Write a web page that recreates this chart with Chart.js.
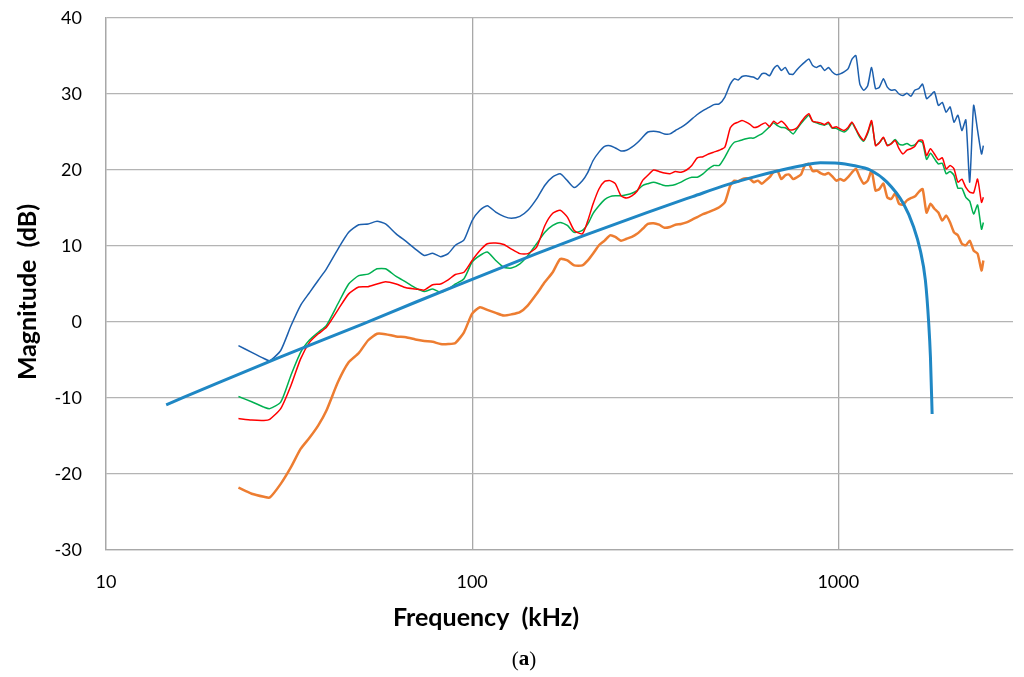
<!DOCTYPE html>
<html lang="en">
<head>
<meta charset="UTF-8">
<title>Magnitude vs frequency</title>
<script src="https://cdn.jsdelivr.net/npm/chart.js"></script>
<style>
  html, body { margin: 0; padding: 0; background: #fff; }
  #wrap { width: 1024px; height: 677px; }
</style>
</head>
<body>
<div id="wrap"><canvas id="myChart"></canvas></div>
<script>
  // measured curves share one frequency list (kHz)
  var freq = [23, 25, 27, 28, 30, 32, 34, 36, 38, 40,
    43, 46, 49, 52, 55, 58, 62, 66, 70, 74,
    78, 82, 86, 90, 95, 100, 105, 110, 116, 122,
    128, 135, 142, 150, 158, 166, 174, 182, 190, 200,
    207, 214, 222, 230, 238, 246, 255, 264, 273, 282,
    292, 302, 313, 324, 335, 347, 359, 372, 385, 398,
    412, 427, 442, 457, 473, 490, 507, 520, 533, 546,
    560, 574, 588, 603, 618, 633, 649, 665, 682, 699,
    716, 734, 753, 771, 791, 810, 831, 851, 873, 894,
    917, 940, 963, 987, 1012, 1037, 1063, 1090, 1117, 1145,
    1173, 1203, 1233, 1264, 1295, 1328, 1361, 1395, 1430, 1465,
    1502, 1540, 1578, 1617, 1658, 1699, 1742, 1785, 1830, 1876,
    1923, 1971, 2020, 2070, 2122, 2175, 2230, 2285, 2342, 2401,
    2461, 2490];

  var darkBlue = [-3.1, -4.0, -4.8, -5.1, -3.75, -0.5, 2.2, 3.9, 5.5, 7.0,
    9.6, 11.8, 12.8, 12.9, 13.25, 12.9, 11.6, 10.6, 9.6, 8.75,
    9.05, 8.6, 9.0, 10.1, 10.8, 13.35, 14.7, 15.3, 14.45, 13.9,
    13.65, 13.9, 14.7, 16.2, 18.0, 19.1, 19.5, 18.6, 17.7, 18.6,
    19.7, 21.25, 22.35, 23.1, 23.2, 22.9, 22.5, 22.6, 23.0, 23.55,
    24.3, 25.0, 25.1, 25.0, 24.75, 24.75, 25.2, 25.6, 26.1, 26.7,
    27.3, 27.8, 28.2, 28.6, 28.7, 29.6, 31.3, 32.0, 31.85, 32.3,
    32.4, 32.3, 32.2, 31.95, 32.65, 32.7, 32.4, 33.3, 33.75, 33.1,
    33.5, 32.65, 32.6, 33.2, 33.75, 34.2, 34.6, 33.75, 33.5, 33.75,
    33.1, 33.5, 32.9, 32.55, 32.65, 32.9, 33.3, 34.6, 35.05, 31.3,
    30.5, 31.1, 33.5, 30.7, 30.9, 32.0, 30.9, 30.5, 30.55, 30.0,
    29.8, 30.1, 29.7, 30.5, 30.7, 31.3, 29.4, 29.8, 30.3, 28.5,
    28.9, 27.6, 28.3, 26.3, 27.2, 25.2, 26.6, 18.4, 28.5, 25.2,
    22.1, 23.2];

  var red = [-12.7, -12.9, -12.95, -12.8, -11.4, -8.35, -4.85, -2.65, -1.55, -0.7,
    1.6, 3.7, 4.6, 4.65, 5.0, 5.3, 5.0, 4.5, 4.35, 4.2,
    4.9, 5.0, 5.55, 6.25, 6.55, 8.1, 9.4, 10.3, 10.4, 10.2,
    9.6, 9.0, 9.0, 9.85, 12.7, 14.3, 14.7, 13.8, 12.05, 11.6,
    13.35, 15.55, 17.5, 18.5, 18.6, 18.2, 16.6, 16.3, 16.6, 17.2,
    18.6, 19.3, 20.0, 19.8, 19.6, 19.5, 19.8, 19.7, 20.0, 20.6,
    21.6, 21.75, 22.1, 22.35, 22.6, 23.0, 25.55, 26.1, 26.3, 26.5,
    26.3, 26.0, 25.6, 25.7, 26.0, 26.2, 25.7, 26.4, 26.1, 26.4,
    26.0, 25.3, 25.3, 25.55, 26.3, 26.95, 27.4, 26.4, 26.3, 26.2,
    26.0, 26.3, 25.55, 25.7, 25.4, 25.2, 25.6, 26.3, 25.4, 24.5,
    23.9, 25.0, 26.5, 23.2, 23.6, 24.3, 23.2, 23.45, 23.9, 22.8,
    22.1, 22.6, 22.8, 23.1, 23.9, 23.9, 21.9, 22.8, 22.1, 21.35,
    21.6, 20.15, 20.6, 20.15, 18.4, 18.8, 17.7, 17.1, 17.0, 18.8,
    15.75, 16.4];

  var green = [-9.8, -10.5, -11.2, -11.4, -10.55, -7.0, -4.0, -2.35, -1.35, -0.45,
    2.4, 5.0, 6.1, 6.3, 7.0, 7.0, 6.0, 5.25, 4.5, 4.0,
    4.35, 3.9, 4.35, 5.0, 5.7, 7.9, 8.75, 9.2, 8.1, 7.2,
    7.1, 7.65, 8.75, 10.3, 11.8, 12.7, 13.1, 12.7, 11.8, 12.05,
    12.9, 14.3, 15.3, 16.1, 16.5, 16.6, 16.6, 16.75, 16.95, 17.3,
    17.95, 18.2, 18.4, 18.2, 17.95, 17.95, 18.1, 18.4, 18.8, 19.05,
    19.05, 19.5, 20.15, 20.6, 20.6, 21.7, 23.0, 23.65, 23.8, 23.95,
    24.1, 24.2, 24.2, 24.5, 24.75, 25.2, 25.7, 26.2, 25.85, 25.6,
    25.55, 25.2, 24.75, 25.4, 26.1, 26.7, 27.2, 26.4, 26.2, 26.0,
    25.9, 26.1, 25.5, 25.5, 25.2, 25.0, 25.4, 26.2, 25.3, 24.3,
    23.8, 24.8, 26.3, 23.3, 23.6, 24.2, 23.3, 23.5, 24.0, 23.4,
    23.3, 23.5, 23.2, 23.3, 23.8, 23.6, 21.4, 22.2, 21.5, 20.8,
    20.9, 19.5, 19.8, 19.3, 17.6, 17.6, 16.4, 15.9, 14.2, 15.4,
    12.2, 13.1];

  var orange = [-21.8, -22.6, -23.0, -23.1, -21.3, -19.1, -16.7, -15.2, -13.6, -11.65,
    -7.9, -5.3, -4.1, -2.4, -1.55, -1.6, -1.9, -2.0, -2.3, -2.5,
    -2.6, -2.9, -2.9, -2.75, -1.35, 1.1, 1.95, 1.6, 1.2, 0.85,
    1.0, 1.3, 2.2, 3.7, 5.25, 6.55, 8.3, 8.1, 7.45, 7.45,
    8.1, 9.0, 10.1, 10.7, 11.4, 11.2, 10.7, 10.95, 11.2, 11.6,
    12.25, 12.9, 13.0, 12.8, 12.4, 12.5, 12.8, 12.9, 13.1, 13.45,
    13.8, 14.2, 14.45, 14.75, 15.1, 15.75, 17.95, 18.6, 18.5, 18.8,
    18.9, 18.8, 18.4, 18.6, 18.2, 18.6, 19.05, 19.7, 19.9, 18.8,
    19.3, 19.4, 18.8, 19.05, 19.4, 20.6, 20.8, 19.85, 19.9, 19.6,
    19.4, 19.6, 19.15, 18.6, 18.8, 18.6, 19.05, 19.7, 20.15, 19.05,
    18.2, 18.6, 19.9, 17.3, 17.5, 18.2, 16.4, 16.2, 16.9, 15.55,
    15.45, 16.0, 16.3, 16.5, 17.1, 17.5, 14.4, 15.55, 14.9, 14.4,
    13.35, 14.0, 13.1, 11.8, 11.4, 10.3, 10.1, 10.7, 9.4, 9.0,
    6.8, 8.1];

  // model curve
  var modelFreq = [14.6, 20, 30, 50, 70, 100, 150, 200, 300, 400,
    500, 600, 700, 800, 893, 1000, 1099, 1222, 1358, 1507,
    1606, 1675, 1729, 1766, 1785, 1804];
  var model = [-10.9, -8.1, -4.6, -0.3, 2.6, 5.6, 9.0, 11.3, 14.4, 16.5,
    18.1, 19.2, 20.0, 20.6, 20.95, 20.9, 20.6, 20.0, 18.4, 15.55,
    12.5, 9.4, 5.5, -0.2, -4.6, -12.1];

  var xTicks = [10, 100, 1000];

  function pts(xs, ys) {
    return xs.map(function (f, i) { return { x: f, y: ys[i] }; });
  }

  function serie(data, color, width) {
    return {
      data: data,
      borderColor: color,
      borderWidth: width,
      pointRadius: 0,
      tension: 0.2,
      fill: false
    };
  }

  var modelSet = serie(pts(modelFreq, model), "#1F87C4", 3);
  modelSet.cubicInterpolationMode = "monotone";

  // axis titles and the "(a)" caption, placed like the original figure
  var textPlugin = {
    id: "texts",
    afterDraw: function (chart) {
      var ctx = chart.ctx;
      ctx.save();
      ctx.fillStyle = "#000";
      ctx.textBaseline = "middle";
      ctx.textAlign = "center";
      ctx.font = "bold 25px Lato, sans-serif";
      ctx.fillText("Frequency  (kHz)", 486, 618);

      ctx.save();
      ctx.translate(28, 292);
      ctx.rotate(-Math.PI / 2);
      ctx.fillText("Magnitude  (dB)", 0, 0);
      ctx.restore();

      ctx.textAlign = "left";
      ctx.font = "21px 'Liberation Serif', serif";
      var wParen = ctx.measureText("(").width;
      ctx.font = "bold 21px 'Liberation Serif', serif";
      var wA = ctx.measureText("a").width;
      var x0 = 524 - (2 * wParen + wA) / 2;
      ctx.font = "21px 'Liberation Serif', serif";
      ctx.fillText("(", x0, 660);
      ctx.font = "bold 21px 'Liberation Serif', serif";
      ctx.fillText("a", x0 + wParen, 660);
      ctx.font = "21px 'Liberation Serif', serif";
      ctx.fillText(")", x0 + wParen + wA, 660);
      ctx.restore();
    }
  };

  Chart.defaults.font.family = "Lato, 'Open Sans', sans-serif";
  Chart.defaults.color = "#000";

  const myChart = new Chart(document.getElementById("myChart"), {
    type: "line",
    data: {
      datasets: [
        modelSet,
        serie(pts(freq, orange), "#ED7D31", 2.5),
        serie(pts(freq, red), "#FF0000", 1.5),
        serie(pts(freq, green), "#00B050", 1.5),
        serie(pts(freq, darkBlue), "#1C5FAD", 1.5)
      ]
    },
    options: {
      responsive: true,
      maintainAspectRatio: false,
      animation: false,
      layout: { padding: { top: 18, right: 11, bottom: 0, left: 0 } },
      plugins: {
        legend: { display: false },
        tooltip: { enabled: false }
      },
      scales: {
        x: {
          type: "logarithmic",
          min: 10,
          max: 3000,
          afterBuildTicks: function (scale) {
            scale.ticks = xTicks.map(function (v) { return { value: v }; });
          },
          afterFit: function (scale) { scale.height = 127; },
          ticks: {
            padding: 21,
            font: { size: 18 },
            callback: function (v) { return String(v); }
          },
          grid: { color: "#a8a8a8", lineWidth: 1.3, drawTicks: false },
          border: { color: "#a8a8a8", width: 1.3 }
        },
        y: {
          min: -30,
          max: 40,
          afterFit: function (scale) {
            scale.width = 106;
            scale.paddingTop = 0;
            scale.paddingBottom = 0;
          },
          ticks: { stepSize: 10, padding: 24, font: { size: 18 } },
          grid: { color: "#b4b4b4", lineWidth: 1.3, drawTicks: false },
          border: { color: "#a8a8a8", width: 1.3 }
        }
      }
    },
    plugins: [textPlugin]
  });
</script>
</body>
</html>
